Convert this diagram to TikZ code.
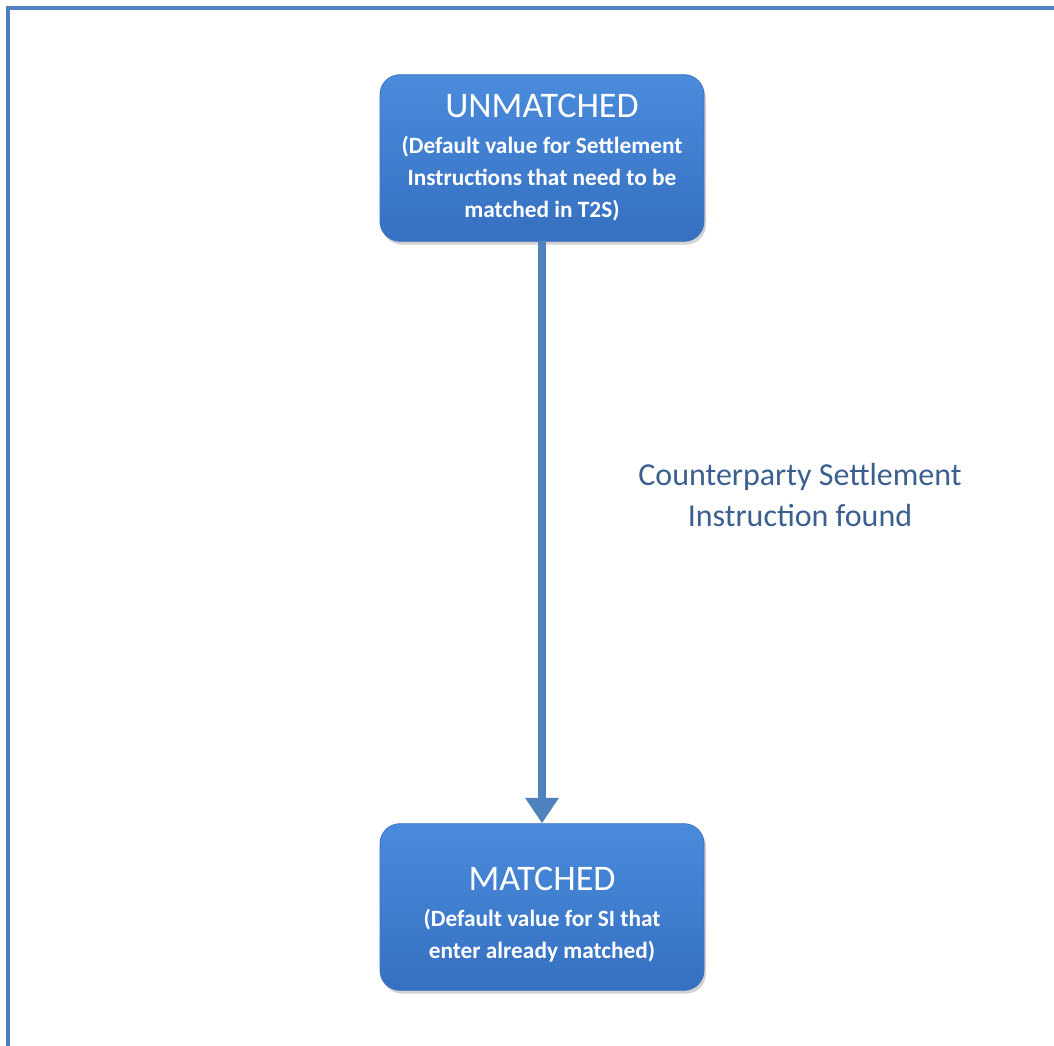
\documentclass[tikz,border=0pt]{standalone}
\usepackage{fontspec}
\setmainfont{Carlito}
\usetikzlibrary{arrows.meta,shadows}
\definecolor{frameblue}{HTML}{4F81BD}
\definecolor{boxtop}{HTML}{4A8BDC}
\definecolor{boxbot}{HTML}{3670C0}
\definecolor{boxline}{HTML}{3A72BE}
\definecolor{labelblue}{HTML}{3B5F8E}
\tikzset{
  state/.style={rounded corners=15pt,top color=boxtop,bottom color=boxbot,
    draw=boxline,line width=0.6pt,minimum width=243pt,minimum height=125pt,
    align=center,text=white,font=\fontsize{17.5}{24}\selectfont\bfseries,
    drop shadow={shadow xshift=1.5pt,shadow yshift=-2.5pt,opacity=0.35}},
  flow/.style={frameblue,line width=6pt,-{Triangle[length=19pt,width=24pt]}},
}
\newcommand{\statetitle}[1]{{\fontsize{27}{27}\selectfont\mdseries #1}\\[3pt]}
\begin{document}
\begin{tikzpicture}[x=0.75pt,y=-0.75pt]
\useasboundingbox (0,0) rectangle (1054,1046);
% frame, only the top and left edges show
\draw[frameblue,line width=3.6pt] (8,1046) -- (8,8) -- (1054,8);
\node[state] (unmatched) at (542,158) {\statetitle{UNMATCHED}
  (Default value for Settlement\\Instructions that need to be\\matched in T2S)};
\node[state] (matched) at (542,907) {\statetitle{\rule{0pt}{29pt}MATCHED}
  (Default value for SI that\\enter already matched)};
\draw[flow] (unmatched) -- (matched);
\node[text=labelblue,align=center,font=\fontsize{24}{31}\selectfont] (found) at (800,495)
  {Counterparty Settlement\\Instruction found};
\end{tikzpicture}
\end{document}
